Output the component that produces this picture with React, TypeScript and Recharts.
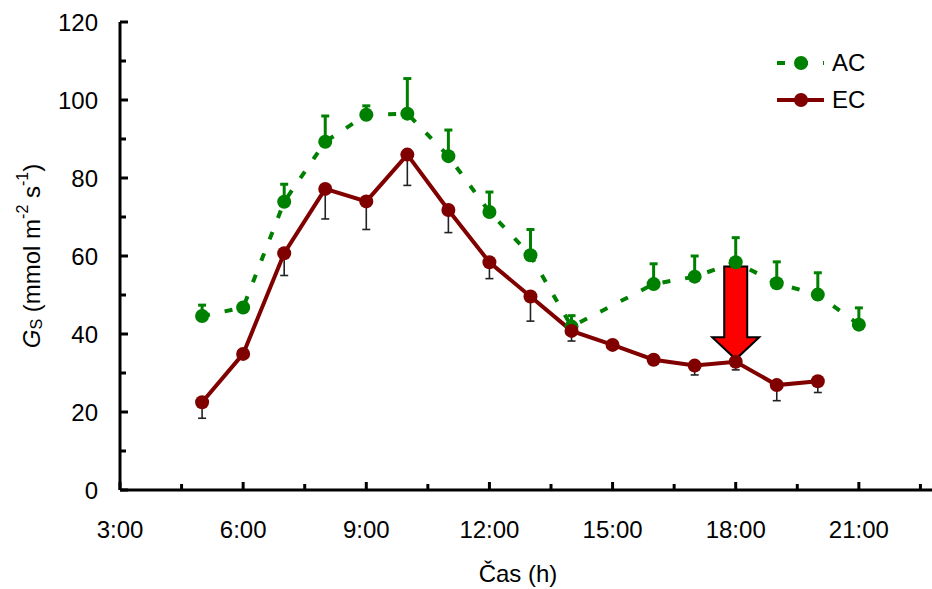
import { Label, Line, LineChart, ErrorBar, ReferenceLine, XAxis, YAxis } from "recharts"

// AC – ambient CO2 (no reading at 15:00)
const acHours = [5, 6, 7, 8, 9, 10, 11, 12, 13, 14, 16, 17, 18, 19, 20, 21]
const acGs = [44.6, 46.8, 73.9, 89.3, 96.2, 96.5, 85.6, 71.3, 60.2, 41.9, 52.8, 54.7, 58.4, 53.0, 50.1, 42.4]
const acSdUp = [2.8, 1.0, 4.5, 6.6, 2.3, 9.0, 6.7, 5.1, 6.6, 2.8, 5.2, 5.3, 6.3, 5.5, 5.6, 4.3]

// EC – elevated CO2
const ecHours = [5, 6, 7, 8, 9, 10, 11, 12, 13, 14, 15, 16, 17, 18, 19, 20]
const ecGs = [22.5, 34.9, 60.7, 77.2, 74.0, 86.0, 71.8, 58.4, 49.6, 40.8, 37.2, 33.4, 31.9, 32.9, 26.9, 27.9]
const ecSdDown = [4.1, 1.0, 5.7, 7.7, 7.2, 7.9, 5.8, 4.2, 6.3, 2.6, 1.0, 1.2, 2.4, 2.1, 4.0, 2.9]

const xTicks = [3, 4.5, 6, 7.5, 9, 10.5, 12, 13.5, 15, 16.5, 18, 19.5, 21, 22.5]
const yTicks = [0, 10, 20, 30, 40, 50, 60, 70, 80, 90, 100, 110, 120]

// arrow marking the 18:00 reading
const arrowHour = 18
const arrowTop = 57.3
const arrowTip = 33.5

const acData = acHours.map((h, i) => ({ h, gs: acGs[i], err: [0, acSdUp[i]] }))
const ecData = ecHours.map((h, i) => ({ h, gs: ecGs[i], err: [ecSdDown[i], 0] }))

const FONT = "'Liberation Sans', Arial, sans-serif"
const GREEN = "#008000"
const MAROON = "#800000"
const DASH = "8 15"

function XTick({ x, y, payload }: any) {
  const major = payload.value % 3 === 0
  return (
    <g>
      <line x1={x} y1={y} x2={x} y2={y - (major ? 8 : 6)} stroke="#000" strokeWidth={3} />
      {major && (
        <text x={x} y={y + 39} textAnchor="middle" dominantBaseline="central" fontSize={24} fontFamily={FONT} fill="#000">
          {`${payload.value}:00`}
        </text>
      )}
    </g>
  )
}

function YTick({ x, y, payload }: any) {
  const major = payload.value % 20 === 0
  return (
    <g>
      <line x1={x} y1={y} x2={x + (major ? 8 : 6)} y2={y} stroke="#000" strokeWidth={3} />
      {major && (
        <text x={x - 22} y={y} textAnchor="end" dominantBaseline="central" fontSize={24} fontFamily={FONT} fill="#000">
          {payload.value}
        </text>
      )}
    </g>
  )
}

function YTitle({ viewBox }: any) {
  const cx = viewBox.x + 31
  const cy = viewBox.y + viewBox.height / 2
  return (
    <text
      x={cx}
      y={cy}
      transform={`rotate(-90 ${cx} ${cy})`}
      textAnchor="middle"
      dominantBaseline="central"
      fontSize={24}
      fontFamily={FONT}
      fill="#000"
    >
      <tspan fontStyle="italic">G</tspan>
      <tspan fontSize={16} dy={5}>S</tspan>
      <tspan dy={-5}> (mmol m</tspan>
      <tspan fontSize={16} dy={-9}>-2</tspan>
      <tspan dy={9}> s</tspan>
      <tspan fontSize={16} dy={-9}>-1</tspan>
      <tspan dy={9}>)</tspan>
    </text>
  )
}

function XTitle({ viewBox }: any) {
  return (
    <text
      x={viewBox.x + 398}
      y={viewBox.y + 83}
      textAnchor="middle"
      dominantBaseline="central"
      fontSize={24}
      fontFamily={FONT}
      fill="#000"
    >
      Čas (h)
    </text>
  )
}

function DownArrow({ x1, y1, y2 }: any) {
  const top = Math.min(y1, y2)
  const tip = Math.max(y1, y2)
  const base = tip - 22
  const pts = [
    [x1 - 11.5, top],
    [x1 + 11.5, top],
    [x1 + 11.5, base],
    [x1 + 23.5, base],
    [x1, tip],
    [x1 - 23.5, base],
    [x1 - 11.5, base],
  ]
  return <polygon points={pts.map((p) => p.join(",")).join(" ")} fill="#ff0000" stroke="#000" strokeWidth={2} />
}

const legendItems = [
  { name: "AC", color: GREEN, dash: DASH },
  { name: "EC", color: MAROON, dash: undefined },
]

function LegendBox() {
  return (
    <div style={{ position: "absolute", left: 776, top: 44, fontFamily: FONT, fontSize: 24, color: "#000" }}>
      {legendItems.map((it) => (
        <div key={it.name} style={{ display: "flex", alignItems: "center", height: 37 }}>
          <svg width={50} height={20}>
            <line x1={1} y1={10} x2={48} y2={10} stroke={it.color} strokeWidth={4} strokeDasharray={it.dash} />
            <circle cx={25} cy={10} r={7} fill={it.color} />
          </svg>
          <span style={{ marginLeft: 6, lineHeight: 1 }}>{it.name}</span>
        </div>
      ))}
    </div>
  )
}

export default function App() {
  return (
    <div style={{ position: "absolute", left: 0, top: 0, width: 932, height: 589, overflow: "hidden", background: "#fff" }}>
      <LineChart width={1000} height={589} margin={{ top: 22, right: 18, bottom: 0, left: 0 }}>
        <XAxis
          dataKey="h"
          type="number"
          domain={[3, 24]}
          ticks={xTicks}
          interval={0}
          tickSize={0}
          tickMargin={0}
          tick={<XTick />}
          axisLine={{ stroke: "#000", strokeWidth: 3 }}
          height={99}
          allowDataOverflow
        >
          <Label content={XTitle} />
        </XAxis>
        <YAxis
          type="number"
          domain={[0, 120]}
          ticks={yTicks}
          interval={0}
          tickSize={0}
          tickMargin={0}
          tick={<YTick />}
          axisLine={{ stroke: "#000", strokeWidth: 3 }}
          width={120}
        >
          <Label content={YTitle} />
        </YAxis>
        <Line
          data={acData}
          dataKey="gs"
          name="AC"
          stroke={GREEN}
          strokeWidth={4}
          strokeDasharray={DASH}
          dot={{ r: 7, fill: GREEN, stroke: "none" }}
          activeDot={false}
          isAnimationActive={false}
        >
          <ErrorBar dataKey="err" direction="y" width={4} stroke={GREEN} strokeWidth={3} />
        </Line>
        <Line
          data={ecData}
          dataKey="gs"
          name="EC"
          stroke={MAROON}
          strokeWidth={4}
          dot={{ r: 7, fill: MAROON, stroke: "none" }}
          activeDot={false}
          isAnimationActive={false}
        >
          <ErrorBar dataKey="err" direction="y" width={4} stroke="#222" strokeWidth={1.6} />
        </Line>
        <ReferenceLine
          segment={[
            { x: arrowHour, y: arrowTop },
            { x: arrowHour, y: arrowTip },
          ]}
          shape={(p: any) => <DownArrow {...p} />}
        />
      </LineChart>
      <LegendBox />
    </div>
  )
}
